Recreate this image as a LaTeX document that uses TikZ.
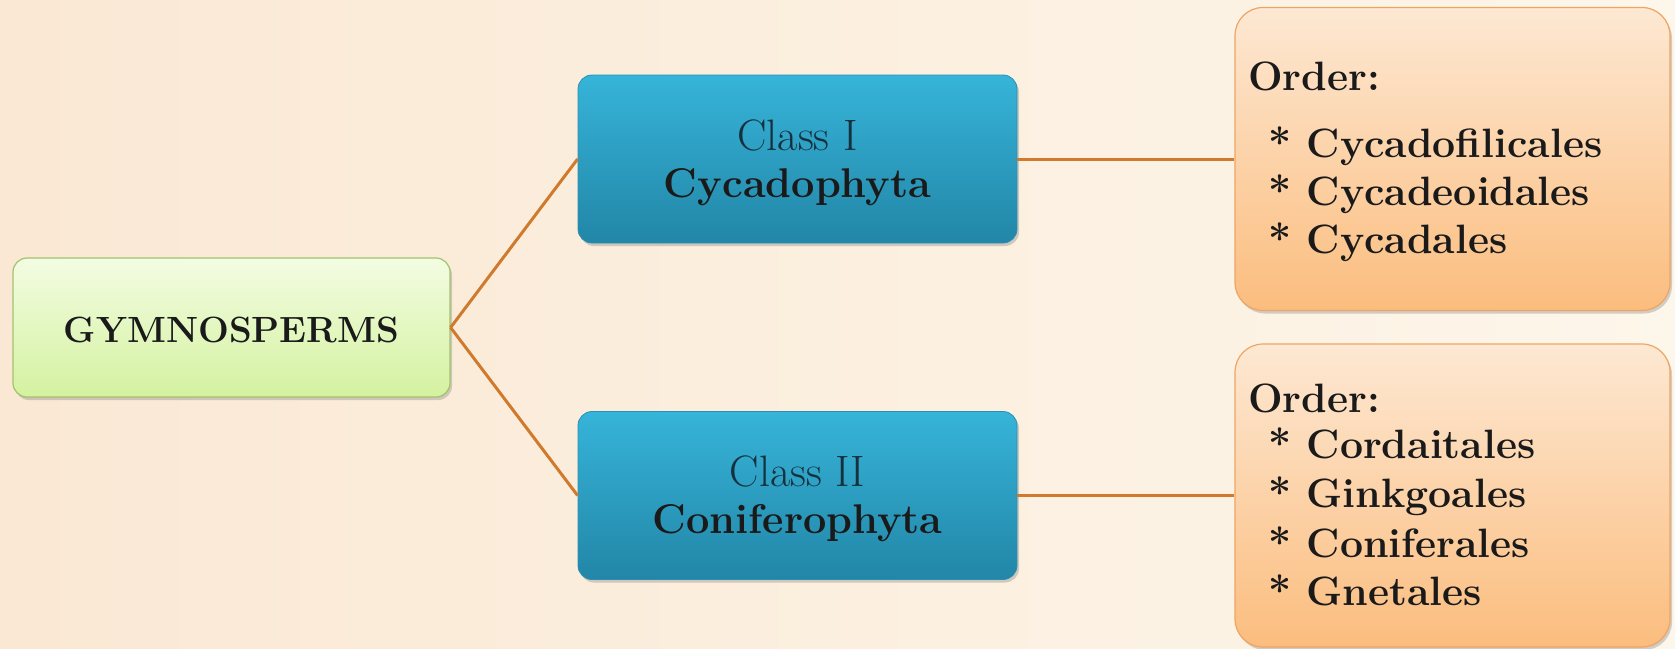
\documentclass[tikz,border=0pt]{standalone}
\usepackage{fontspec}
\usetikzlibrary{shadows}
\definecolor{bgA}{HTML}{FAE8D4}
\definecolor{bgB}{HTML}{FDF6EA}
\definecolor{greenT}{HTML}{F3FCE2}
\definecolor{greenB}{HTML}{D4F2A0}
\definecolor{greenD}{HTML}{A3C26C}
\definecolor{blueT}{HTML}{36B4D9}
\definecolor{blueB}{HTML}{2286A7}
\definecolor{blueD}{HTML}{2A90B2}
\definecolor{orT}{HTML}{FDE8D3}
\definecolor{orB}{HTML}{FBBD7E}
\definecolor{orD}{HTML}{EEA563}
\definecolor{connC}{HTML}{CF7A2C}
\definecolor{darkT}{HTML}{1A1A1A}
\definecolor{classT}{HTML}{16313E}
\tikzset{
  boxbase/.style={rounded corners=14pt, inner sep=0pt,
    drop shadow={opacity=0.35, shadow xshift=2pt, shadow yshift=-3pt}},
  gbox/.style={boxbase, top color=greenT, bottom color=greenB, draw=greenD, line width=1.2pt,
    minimum width=437pt, minimum height=139pt},
  bbox/.style={boxbase, top color=blueT, bottom color=blueB, draw=blueD, line width=0.8pt,
    minimum width=439pt, minimum height=168pt},
  obox/.style={boxbase, rounded corners=28pt, top color=orT, bottom color=orB, draw=orD, line width=1.2pt,
    minimum width=435pt, minimum height=303pt},
  conn/.style={draw=connC, line width=3pt},
  lbl/.style={inner sep=0pt, anchor=base, text=darkT},
  ordtxt/.style={inner sep=0pt, anchor=base west, text=darkT, font=\fontsize{41}{48}\selectfont\bfseries},
}
\begin{document}
\begin{tikzpicture}[x=1pt,y=-1pt]
\useasboundingbox (0,0) rectangle (1675,648);
\shade[left color=bgA, right color=bgB] (0,0) rectangle (1675,648);

\node[gbox] (g) at (231.5,327.5) {};
\node[bbox] (c1) at (797.5,159) {};
\node[bbox] (c2) at (797.5,495.5) {};
\node[obox] (o1) at (1452.5,159) {};
\node[obox] (o2) at (1452.5,495.5) {};

\draw[conn] (g.east) -- (c1.west);
\draw[conn] (g.east) -- (c2.west);
\draw[conn] (c1.east) -- (o1.west);
\draw[conn] (c2.east) -- (o2.west);

\node[lbl, font=\fontsize{36.5}{42}\selectfont\bfseries] (gt) at (231.5,342) {GYMNOSPERMS};

\node[lbl, text=classT, font=\fontsize{44}{47}\selectfont] (c1a) at (797.5,150) {Class I};
\node[lbl, font=\fontsize{41.5}{47}\selectfont\bfseries] (c1b) at (797.5,197) {Cycadophyta};
\node[lbl, text=classT, font=\fontsize{44}{47}\selectfont] (c2a) at (797.5,486.5) {Class II};
\node[lbl, font=\fontsize{41.5}{47}\selectfont\bfseries] (c2b) at (797.5,533.5) {Coniferophyta};

\node[ordtxt] (o1h) at (1248,90) {Order:};
\node[ordtxt] (o1a) at (1268,157) {* Cycadofilicales};
\node[ordtxt] (o1b) at (1268,205) {* Cycadeoidales};
\node[ordtxt] (o1c) at (1268,253) {* Cycadales};

\node[ordtxt] (o2h) at (1248,412) {Order:};
\node[ordtxt] (o2a) at (1268,458) {* Cordaitales};
\node[ordtxt] (o2b) at (1268,507) {* Ginkgoales};
\node[ordtxt] (o2c) at (1268,557) {* Coniferales};
\node[ordtxt] (o2d) at (1268,605) {* Gnetales};
\end{tikzpicture}
\end{document}
